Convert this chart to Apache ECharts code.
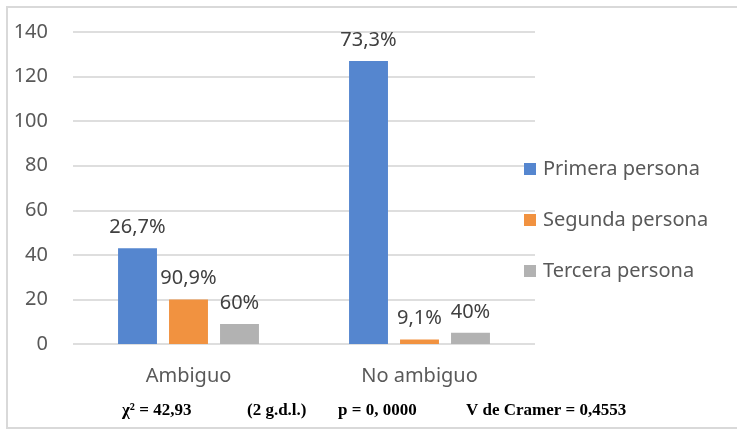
<!DOCTYPE html>
<html>
<head>
<meta charset="utf-8">
<script src="https://cdn.jsdelivr.net/npm/echarts@6/dist/echarts.min.js"></script>
<style>
  html, body { margin: 0; padding: 0; background: #ffffff; }
  #chart { width: 737px; height: 430px; }
</style>
</head>
<body>
<div id="chart"></div>
<script>
const categories = ['Ambiguo', 'No ambiguo'];
const seriesNames = ['Primera persona', 'Segunda persona', 'Tercera persona'];
const primera = [43, 127];
const segunda = [20, 2];
const tercera = [9, 5];
const primeraLabels = ['26,7%', '73,3%'];
const segundaLabels = ['90,9%', '9,1%'];
const terceraLabels = ['60%', '40%'];
const yTicks = { min: 0, max: 140, interval: 20 };
const footnotes = ['χ² = 42,93', '(2 g.d.l.)', 'p = 0, 0000', 'V de Cramer = 0,4553'];

const colors = ['#5586cf', '#f19240', '#b2b2b2'];
const font = 'Noto Sans';
const textColor = '#595959';

function makeSeries(name, values, labels, color) {
  return {
    name: name,
    type: 'bar',
    data: values,
    barGap: '31%',
    barCategoryGap: '39%',
    itemStyle: { color: color },
    label: {
      show: true,
      position: 'top',
      distance: 11,
      fontFamily: font,
      fontSize: 20,
      color: '#404040',
      formatter: p => labels[p.dataIndex]
    }
  };
}

const chart = echarts.init(document.getElementById('chart'), null, { renderer: 'canvas' });
const footX = [122, 247, 338, 466];
chart.setOption({
  animation: false,
  backgroundColor: '#ffffff',
  grid: { left: 73, right: 202, top: 32, bottom: 86, containLabel: false },
  legend: {
    orient: 'vertical',
    left: 524,
    top: 159,
    padding: 0,
    itemWidth: 12,
    itemHeight: 12,
    itemGap: 31,
    icon: 'rect',
    textStyle: { fontFamily: font, fontSize: 20, color: textColor, padding: [0, 0, 0, 2] },
    data: seriesNames
  },
  xAxis: {
    type: 'category',
    data: categories,
    axisLine: { show: false },
    axisTick: { show: false },
    axisLabel: { fontFamily: font, fontSize: 20, color: textColor, margin: 22 }
  },
  yAxis: {
    type: 'value',
    min: yTicks.min,
    max: yTicks.max,
    interval: yTicks.interval,
    axisLine: { show: false },
    axisTick: { show: false },
    axisLabel: { fontFamily: font, fontSize: 20, color: textColor, margin: 25 },
    splitLine: { lineStyle: { color: '#dedede', width: 2 } }
  },
  series: [
    makeSeries(seriesNames[0], primera, primeraLabels, colors[0]),
    makeSeries(seriesNames[1], segunda, segundaLabels, colors[1]),
    makeSeries(seriesNames[2], tercera, terceraLabels, colors[2])
  ],
  graphic: [
    {
      type: 'rect',
      silent: true,
      shape: { x: 7, y: 7, width: 740, height: 421 },
      style: { fill: 'none', stroke: '#d9d9d9', lineWidth: 2 }
    }
  ].concat(footnotes.map((t, i) => ({
    type: 'text',
    left: footX[i],
    top: 402,
    style: {
      text: t,
      font: 'bold 17px "Liberation Serif", "Times New Roman", serif',
      fill: '#000000'
    }
  })))
});
</script>
</body>
</html>
